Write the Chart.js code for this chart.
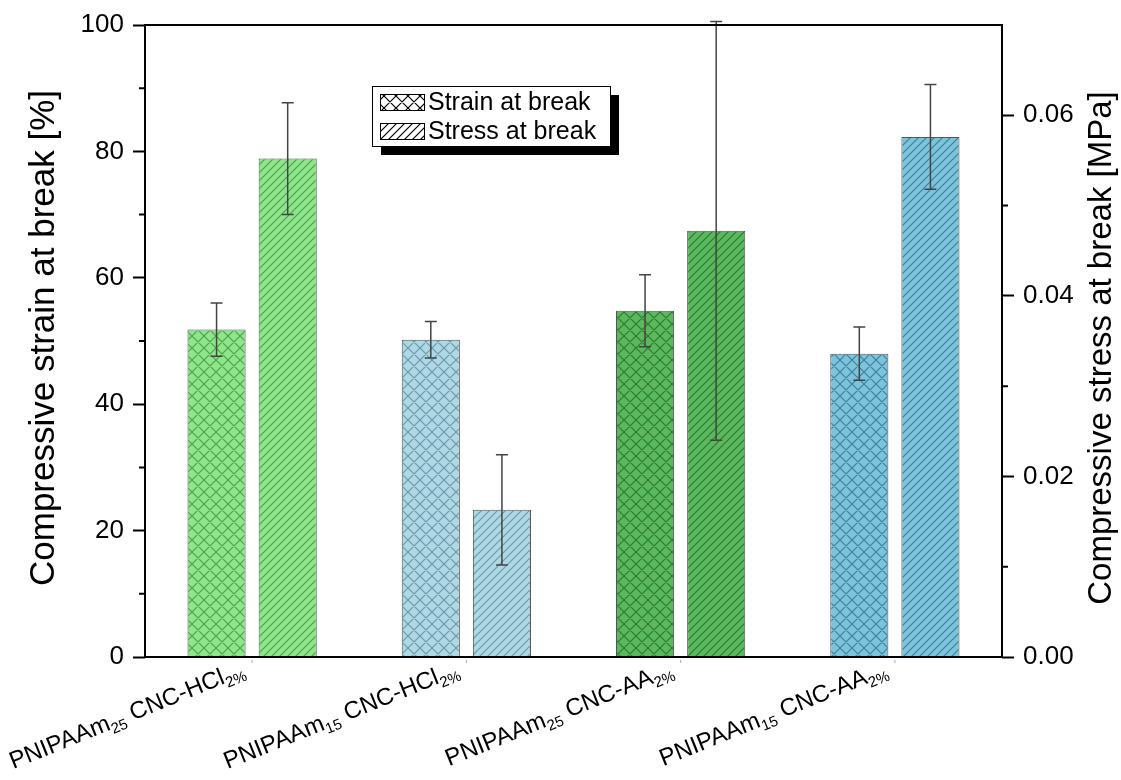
<!DOCTYPE html>
<html>
<head>
<meta charset="utf-8">
<style>
  body { margin: 0; background: #fff; }
</style>
</head>
<body>
<canvas id="chartContainer" width="1121" height="780"></canvas>
<script src="https://cdn.jsdelivr.net/npm/chart.js@4/dist/chart.umd.min.js"></script>
<script>
// category label pieces (main text + subscripts)
const polymers = ['PNIPAAm', 'PNIPAAm', 'PNIPAAm', 'PNIPAAm'];
const polymerSub = ['25', '15', '25', '15'];
const cncTypes = ['CNC-HCl', 'CNC-HCl', 'CNC-AA', 'CNC-AA'];
const cncSub = ['2%', '2%', '2%', '2%'];
const categories = polymers.map((p, i) => p + polymerSub[i] + ' ' + cncTypes[i] + cncSub[i]);

// strain in %, stress in MPa
const strainValues = [51.8, 50.2, 54.8, 48.0];
const strainErr = [4.2, 2.9, 5.7, 4.2];
const stressValues = [0.0552, 0.0163, 0.0472, 0.0576];
const stressErr = [0.0062, 0.0061, 0.0232, 0.0058];

const leftTicks = [0, 20, 40, 60, 80, 100];
const leftMinor = [10, 30, 50, 70, 90];
const rightTicks = [0, 0.02, 0.04, 0.06];
const rightMinor = [0.01, 0.03, 0.05];

const fillColors = ['#8ee68a', '#aed8e4', '#5cb85c', '#7dc3dc'];
const hatchColors = ['#4f9f4f', '#6a9aa9', '#2e7a35', '#3d8099'];

const FONT = "'Liberation Sans', Arial, sans-serif";
const canvas = document.getElementById('chartContainer');
const ctx = canvas.getContext('2d');

function hatch(bg, fg, cross) {
    const size = cross ? 12 : 8;
    const c = document.createElement('canvas');
    c.width = size; c.height = size;
    const g = c.getContext('2d');
    g.fillStyle = bg;
    g.fillRect(0, 0, size, size);
    g.strokeStyle = fg;
    g.lineWidth = 1.2;
    g.beginPath();
    g.moveTo(-1, size + 1); g.lineTo(size + 1, -1);
    g.moveTo(-1, 1); g.lineTo(1, -1);
    g.moveTo(size - 1, size + 1); g.lineTo(size + 1, size - 1);
    if (cross) {
        g.moveTo(-1, -1); g.lineTo(size + 1, size + 1);
        g.moveTo(size - 1, -1); g.lineTo(size + 1, 1);
        g.moveTo(-1, size - 1); g.lineTo(1, size + 1);
    }
    g.stroke();
    return ctx.createPattern(c, 'repeat');
}

const strainFill = fillColors.map((c, i) => hatch(c, hatchColors[i], true));
const stressFill = fillColors.map((c, i) => hatch(c, hatchColors[i], false));

const extras = {
    id: 'extras',
    afterDatasetsDraw(chart) {
        const c = chart.ctx;
        c.save();
        c.strokeStyle = '#444';
        c.lineWidth = 1.5;
        [[strainValues, strainErr, 'y'], [stressValues, stressErr, 'y1']].forEach(([vals, errs, axis], d) => {
            const sc = chart.scales[axis];
            chart.getDatasetMeta(d).data.forEach((bar, i) => {
                const yt = sc.getPixelForValue(vals[i] + errs[i]);
                const yb = sc.getPixelForValue(vals[i] - errs[i]);
                c.beginPath();
                c.moveTo(bar.x, yt); c.lineTo(bar.x, yb);
                c.moveTo(bar.x - 6, yt); c.lineTo(bar.x + 6, yt);
                c.moveTo(bar.x - 6, yb); c.lineTo(bar.x + 6, yb);
                c.stroke();
            });
        });
        c.restore();
    },
    afterDraw(chart) {
        const c = chart.ctx;
        const a = chart.chartArea;
        c.save();
        // frame
        c.strokeStyle = '#000';
        c.lineWidth = 2;
        c.strokeRect(a.left, a.top, a.right - a.left, a.bottom - a.top);
        // minor ticks
        c.beginPath();
        leftMinor.forEach(v => {
            const y = chart.scales.y.getPixelForValue(v);
            c.moveTo(a.left - 6, y); c.lineTo(a.left, y);
        });
        rightMinor.forEach(v => {
            const y = chart.scales.y1.getPixelForValue(v);
            c.moveTo(a.right, y); c.lineTo(a.right + 6, y);
        });
        c.stroke();
        // small category ticks
        c.strokeStyle = '#aaa';
        c.lineWidth = 1;
        c.beginPath();
        categories.forEach((l, i) => {
            const x = chart.scales.x.getPixelForValue(i);
            c.moveTo(x, a.bottom + 3); c.lineTo(x, a.bottom + 6);
        });
        c.stroke();

        // axis titles
        c.fillStyle = '#000';
        c.textAlign = 'center';
        c.textBaseline = 'middle';
        c.save();
        c.translate(44, 338);
        c.rotate(-Math.PI / 2);
        c.font = '35px ' + FONT;
        c.fillText('Compressive strain at break [%]', 0, 0);
        c.restore();
        c.save();
        c.translate(1102, 348);
        c.rotate(-Math.PI / 2);
        c.font = '33px ' + FONT;
        c.fillText('Compressive stress at break [MPa]', 0, 0);
        c.restore();

        // rotated category labels with subscripts
        c.textAlign = 'left';
        c.textBaseline = 'alphabetic';
        categories.forEach((l, i) => {
            const x = chart.scales.x.getPixelForValue(i);
            const parts = [[polymers[i], false], [polymerSub[i], true], [' ' + cncTypes[i], false], [cncSub[i], true]];
            let total = 0;
            parts.forEach(p => {
                c.font = (p[1] ? '15px ' : '24px ') + FONT;
                p.push(c.measureText(p[0]).width);
                total += p[2];
            });
            c.save();
            c.translate(x - 6, a.bottom + 18);
            c.rotate(-22 * Math.PI / 180);
            let cx = -total;
            parts.forEach(p => {
                c.font = (p[1] ? '15px ' : '24px ') + FONT;
                c.fillText(p[0], cx, p[1] ? 5 : 0);
                cx += p[2];
            });
            c.restore();
        });

        // legend with drop shadow
        const lx = 372, ly = 86, lw = 238, lh = 60;
        c.fillStyle = '#000';
        c.fillRect(lx + 9, ly + 9, lw, lh);
        c.fillStyle = '#fff';
        c.fillRect(lx, ly, lw, lh);
        c.lineWidth = 1;
        c.strokeStyle = '#000';
        c.strokeRect(lx + 0.5, ly + 0.5, lw, lh);
        const items = [['Strain at break', hatch('#fff', '#000', true)], ['Stress at break', hatch('#fff', '#000', false)]];
        items.forEach((it, k) => {
            const sy = ly + 8 + k * 29;
            c.fillStyle = it[1];
            c.fillRect(lx + 8, sy, 44, 16);
            c.strokeRect(lx + 8.5, sy + 0.5, 44, 16);
            c.fillStyle = '#000';
            c.font = '25px ' + FONT;
            c.textBaseline = 'middle';
            c.fillText(it[0], lx + 56, sy + 9);
        });
        c.restore();
    }
};

const chart = new Chart(ctx, {
    type: 'bar',
    data: {
        labels: categories,
        datasets: [{
            label: 'Strain at break',
            data: strainValues,
            yAxisID: 'y',
            backgroundColor: strainFill,
            borderColor: '#555',
            borderWidth: 1,
        },
        {
            label: 'Stress at break',
            data: stressValues,
            yAxisID: 'y1',
            backgroundColor: stressFill,
            borderColor: '#555',
            borderWidth: 1,
        }],
    },
    options: {
        responsive: false,
        animation: false,
        layout: { padding: { top: 25 } },
        datasets: { bar: { categoryPercentage: 0.664, barPercentage: 0.817 } },
        plugins: { legend: { display: false }, tooltip: { enabled: false } },
        scales: {
            x: {
                ticks: { display: false },
                grid: { display: false },
                border: { display: false },
                afterFit: s => { s.height = 123; },
            },
            y: {
                position: 'left',
                min: 0,
                max: 100,
                afterBuildTicks: s => { s.ticks = leftTicks.map(v => ({ value: v })); },
                afterFit: s => { s.width = 145; },
                ticks: { color: '#000', padding: 9, font: { family: FONT, size: 26 } },
                grid: { drawOnChartArea: false, tickLength: 12, tickColor: '#000', tickWidth: 2 },
                border: { display: false },
            },
            y1: {
                position: 'right',
                min: 0,
                max: 0.07,
                afterBuildTicks: s => { s.ticks = rightTicks.map(v => ({ value: v })); },
                afterFit: s => { s.width = 119; },
                ticks: { color: '#000', padding: 9, font: { family: FONT, size: 26 }, callback: v => v.toFixed(2) },
                grid: { drawOnChartArea: false, tickLength: 12, tickColor: '#000', tickWidth: 2 },
                border: { display: false },
            },
        },
    },
    plugins: [extras],
});
</script>
</body>
</html>
